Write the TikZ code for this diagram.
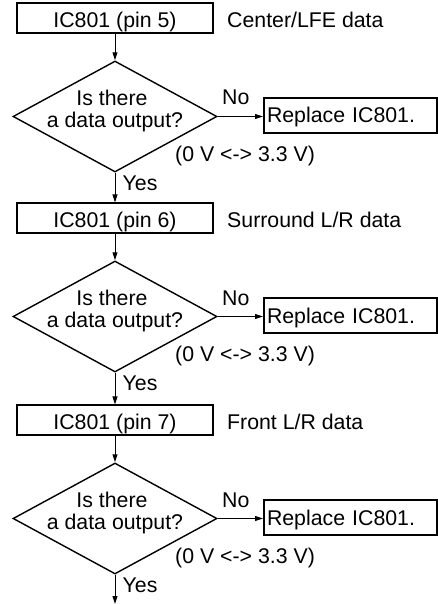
\documentclass[tikz,border=0pt]{standalone}
\usepackage{fontspec}
\setmainfont{Liberation Sans}
\usetikzlibrary{shapes.geometric,arrows.meta}
\tikzset{
  every node/.style={font=\fontsize{21.3}{22}\selectfont},
  box/.style={draw, line width=2pt, minimum width=196pt, minimum height=29.5pt,
    inner sep=0pt, text height=19pt, text depth=0pt},
  dec/.style={draw, diamond, line width=1.4pt, minimum width=204pt,
    minimum height=111pt, inner sep=0pt},
  rep/.style={draw, line width=2pt, anchor=west, minimum height=35pt,
    text width=167pt, inner xsep=3pt, inner ysep=0pt, align=left,
    text height=15pt, text depth=0pt},
  lbl/.style={anchor=base west, inner sep=0pt},
  ctr/.style={anchor=base, inner sep=0pt},
  flow/.style={line width=1pt, -{Triangle[length=8pt,width=5pt]}}
}
\begin{document}
\begin{tikzpicture}[x=1pt,y=-1pt]
\useasboundingbox (0,0) rectangle (437,604);
% ---- row 1
\node[box] (b1) at (115,18.2) {IC801 (pin 5)};
\node[lbl] (s1) at (227,27.5) {Center/LFE data};
\node[dec] (d1) at (115,116.5) {};
\node[ctr] (q1a) at (112,105.7) {Is there};
\node[ctr] (q1b) at (115,127.7) {a data output?};
\node[rep] (r1) at (263,115.5) {Replace IC801.};
\node[lbl] (n1) at (222,105) {No};
\node[lbl] (v1) at (175,161) {(0 V <-> 3.3 V)};
\node[lbl] (y1) at (122.5,190.5) {Yes};
% ---- row 2
\node[box] (b2) at (115,218.2) {IC801 (pin 6)};
\node[lbl] (s2) at (227,227.5) {Surround L/R data};
\node[dec] (d2) at (115,316.5) {};
\node[ctr] (q2a) at (112,305.7) {Is there};
\node[ctr] (q2b) at (115,327.7) {a data output?};
\node[rep] (r2) at (263,315.5) {Replace IC801.};
\node[lbl] (n2) at (222,305) {No};
\node[lbl] (v2) at (175,361) {(0 V <-> 3.3 V)};
\node[lbl] (y2) at (122.5,390.5) {Yes};
% ---- row 3
\node[box] (b3) at (115,420.2) {IC801 (pin 7)};
\node[lbl] (s3) at (227,429.5) {Front L/R data};
\node[dec] (d3) at (115,518.5) {};
\node[ctr] (q3a) at (112,507.7) {Is there};
\node[ctr] (q3b) at (115,529.7) {a data output?};
\node[rep] (r3) at (263,517.5) {Replace IC801.};
\node[lbl] (n3) at (222,507) {No};
\node[lbl] (v3) at (175,563) {(0 V <-> 3.3 V)};
\node[lbl] (y3) at (122.5,592.5) {Yes};
\coordinate (end) at (115,604);
% ---- connectors
\draw[flow] (b1.south) -- (d1.north);
\draw[flow] (d1.east) -- (d1.east -| r1.west);
\draw[flow] (d1.south) -- (b2.north);
\draw[flow] (b2.south) -- (d2.north);
\draw[flow] (d2.east) -- (d2.east -| r2.west);
\draw[flow] (d2.south) -- (b3.north);
\draw[flow] (b3.south) -- (d3.north);
\draw[flow] (d3.east) -- (d3.east -| r3.west);
\draw[flow] (d3.south) -- (end);
\end{tikzpicture}
\end{document}
